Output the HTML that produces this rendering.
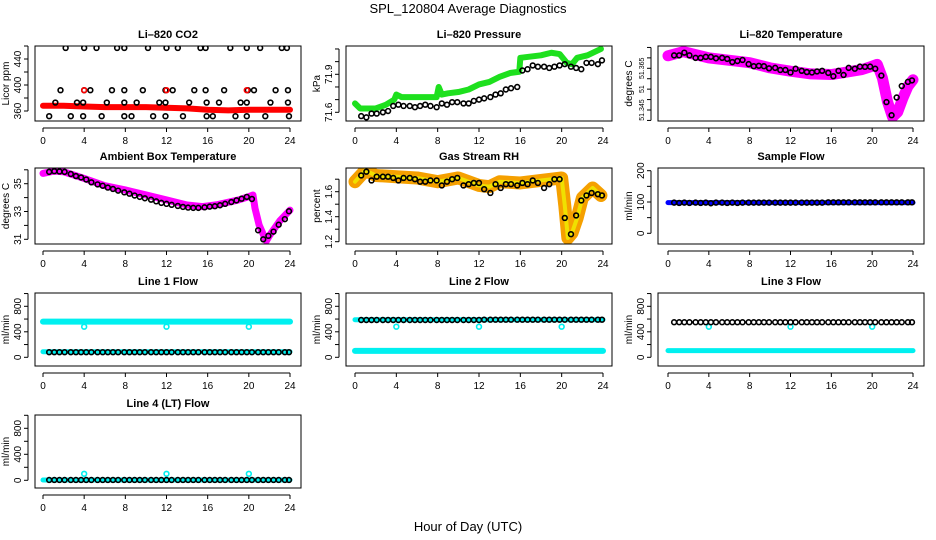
<!DOCTYPE html>
<html><head><meta charset="utf-8"><style>
html,body{margin:0;padding:0;background:#fff}
svg{display:block;font-family:"Liberation Sans",sans-serif}
</style></head><body>
<svg id="c" width="936" height="540" viewBox="0 0 936 540">
<text x="468" y="13" text-anchor="middle" font-size="13">SPL_120804  Average Diagnostics</text>
<text x="468" y="531" text-anchor="middle" font-size="13">Hour of Day (UTC)</text>
</svg>
<script>
// ---- shared sample hours ----
const hoursB = [0.6,1.1,1.6,2.1,2.7,3.2,3.7,4.2,4.7,5.3,5.8,6.3,6.8,7.3,7.9,8.4,8.9,9.4,9.9,10.5,11.0,11.5,12.0,12.5,13.1,13.6,14.1,14.6,15.1,15.7,16.2,16.7,17.2,17.7,18.3,18.8,19.3,19.8,20.3,20.9,21.4,21.9,22.4,22.9,23.5,23.9];
const xTicks = [0,4,8,12,16,20,24];
// ---- CO2 ----
const co2BandH = [0,2,4,6,8,10,12,14,16,18,20,22,24];
const co2BandV = [368,368,367,366,366,366,365,364,362,361,362,362,362];
const co2PtsH = [2.2,4.0,5.2,7.2,7.9,10.2,12.0,13.1,15.3,15.8,18.2,19.8,21.1,23.2,23.7, 1.7,4.0,4.6,6.7,7.9,9.7,11.9,12.6,14.7,15.8,17.6,19.9,20.5,22.6,23.8, 1.2,3.3,3.9,6.2,7.9,9.1,11.3,11.9,14.2,15.9,17.1,19.2,19.8,22.1,23.8, 0.6,2.7,3.9,5.7,7.9,8.6,10.7,11.9,13.6,15.9,16.5,18.7,19.8,21.6,23.9];
const co2PtsV = [457,457,457,457,457,457,457,457,457,457,457,457,457,457,457, 392,392,392,392,392,392,392,392,392,392,392,392,392,392,392, 373,373,373,373,373,373,373,373,373,373,373,373,373,373,373, 352,352,352,352,352,352,352,352,352,352,352,352,352,352,352];
const co2RedH = [4.0,12.0,19.8];
const co2RedV = [392,392,392];
// ---- Pressure ----
const presBandH = [0,0.5,2,3,3.8,4,4.5,6,7.9,8.1,8.4,9,10,11,12,13,14,15,15.9,16,17,18,19,19.8,20.5,21,21.5,22.5,23.8];
const presBandV = [71.67,71.63,71.63,71.66,71.70,71.74,71.72,71.72,71.72,71.80,71.74,71.75,71.76,71.78,71.82,71.84,71.88,71.91,71.92,72.03,72.04,72.05,72.07,72.06,71.99,71.98,72.03,72.05,72.10];
const presPtsV = [71.57,71.56,71.59,71.59,71.6,71.61,71.65,71.66,71.65,71.65,71.64,71.65,71.66,71.65,71.64,71.67,71.66,71.68,71.68,71.67,71.67,71.69,71.70,71.71,71.72,71.74,71.75,71.78,71.79,71.80,71.93,71.94,71.97,71.96,71.96,71.95,71.96,71.97,71.98,71.96,71.95,71.94,71.99,71.99,71.98,72.01];
// ---- Li-820 temperature ----
const tempBandH = [0,1.5,4,8,10,12,14,16,17,19,20,20.5,21,21.5,22,22.5,23,23.5,24];
const tempBandV = [51.371,51.373,51.370,51.3677,51.3652,51.3636,51.3623,51.362,51.3628,51.3644,51.366,51.3669,51.3604,51.349,51.3416,51.344,51.3506,51.3563,51.3595];
const tempPtsV = [51.3712,51.3712,51.3725,51.3712,51.370,51.370,51.3705,51.3705,51.3698,51.370,51.3695,51.368,51.3685,51.369,51.367,51.366,51.3662,51.3660,51.365,51.3652,51.3642,51.3642,51.363,51.3648,51.3638,51.3632,51.363,51.3635,51.3638,51.3628,51.3612,51.3638,51.3618,51.3652,51.3648,51.3658,51.3657,51.3658,51.3648,51.3615,51.3488,51.3425,51.3510,51.3565,51.3585,51.3592];
// ---- Ambient box temperature ----
const ambBandH = [0,1,2,3,4,6,8,10,12,14,15.5,17,19,20,20.4,20.6,21,21.5,21.7,22,23,24];
const ambBandV = [35.74,35.9,35.86,35.62,35.38,34.86,34.55,34.19,33.83,33.47,33.35,33.5,33.83,34.07,34.19,33.23,32.03,31.19,30.88,31.26,32.32,33.1];
const ambPtsV = [35.85,35.9,35.88,35.85,35.7,35.55,35.45,35.3,35.1,34.95,34.85,34.72,34.62,34.5,34.38,34.28,34.15,34.05,33.95,33.85,33.73,33.62,33.55,33.48,33.4,33.33,33.28,33.26,33.26,33.3,33.35,33.38,33.45,33.55,33.68,33.8,33.92,34.05,33.9,31.65,31.0,31.25,31.55,32.05,32.45,33.02];
// ---- RH ----
const rhBandH = [0,1,2,4,6,8,10,12,13,14,16,18,20,20.3,20.6,21,21.5,22,23,23.8];
const rhBandV = [1.68,1.77,1.73,1.72,1.71,1.68,1.71,1.65,1.64,1.68,1.67,1.69,1.71,1.49,1.23,1.27,1.39,1.55,1.63,1.57];
const rhPtsV = [1.73,1.76,1.69,1.72,1.72,1.72,1.71,1.69,1.71,1.71,1.70,1.68,1.68,1.69,1.69,1.65,1.68,1.70,1.71,1.65,1.66,1.67,1.67,1.62,1.59,1.66,1.63,1.66,1.66,1.65,1.67,1.66,1.69,1.67,1.63,1.66,1.70,1.70,1.39,1.26,1.41,1.53,1.57,1.59,1.58,1.57];
// ---- Flows ----
const flowBandH = [0,24];
const sampleBandV = [98,98];
const samplePtsV = [98,97,98,97,98,97,98,96,98,98,97,98,97,98,98,98,98,98,98,98,98,98,98,98,98,98,98,98,98,99,99,99,99,99,99,99,99,99,99,99,99,99,99,99,99,99];
const line1HighV = [560,560];
const line1LowV = [88,88];
const line1PtsV = [80,80,80,80,80,80,80,80,80,80,80,80,80,80,80,80,80,80,80,80,80,80,80,80,80,80,80,80,80,80,80,80,80,80,80,80,80,80,80,80,80,80,80,80,80,80];
const outH = [4,12,20];
const outV = [480,480,480];
const line2HighV = [590,590];
const line2LowV = [100,100];
const line2PtsV = [585,585,585,585,585,585,585,585,585,585,585,585,585,585,585,585,585,585,585,585,585,585,585,590,590,590,590,590,590,590,590,590,590,590,590,590,590,590,590,590,590,590,590,590,590,590];
const line3LowV = [105,105];
const line3PtsV = [550,550,550,550,550,550,550,550,550,550,550,550,550,550,550,550,550,550,550,550,550,550,550,550,550,550,550,550,550,550,550,550,550,550,550,550,550,550,550,550,550,550,550,550,550,550];
const line4BandV = [5,5];
const line4PtsV = [5,5,5,5,5,5,5,5,5,5,5,5,5,5,5,5,5,5,5,5,5,5,5,5,5,5,5,5,5,5,5,5,5,5,5,5,5,5,5,5,5,5,5,5,5,5];
const line4OutV = [100,100,100];

const NS = 'http://www.w3.org/2000/svg';
const svg = document.getElementById('c');
function mk(tag, attrs, parent) {
  const e = document.createElementNS(NS, tag);
  for (const k in attrs) e.setAttribute(k, attrs[k]);
  (parent || svg).appendChild(e);
  return e;
}
const cols = [{L:35,R:301,x0:43,x24:290},{L:346,R:612,x0:355,x24:603},{L:658,R:924,x0:668,x24:913}];
const rows = [{T:46,B:121},{T:168,B:244},{T:293,B:366},{T:415,B:488}];

function panel(name, c, r, title, ylab, yA, pA, yB, pB, yTicks, yLabels, series, labelSize) {
  const col = cols[c], row = rows[r];
  const g = mk('g', {});
  
  
  const X = t => col.x0 + t * (col.x24 - col.x0) / 24;
  const Y = v => pA + (v - yA) * (pB - pA) / (yB - yA);
  const clip = 'clip-' + name;
  const cp = mk('clipPath', {id: clip}, g);
  mk('rect', {x: col.L, y: row.T, width: col.R - col.L, height: row.B - row.T}, cp);
  const data = mk('g', {'clip-path': 'url(#' + clip + ')'}, g);
  series.forEach(s => {
    if (s.type === 'band') {
      const pl = mk('polyline', {points: s.h.map((h, i) => X(h) + ',' + Y(s.v[i])).join(' '), fill: 'none', stroke: s.color, 'stroke-width': s.w || 7, 'stroke-linejoin': 'round', 'stroke-linecap': 'round'}, data);
      
      
    } else {
      s.h.forEach((h, i) => {
        const ci = mk('circle', {cx: X(h), cy: Y(s.v[i]), r: 2.4, fill: 'none', stroke: s.color, 'stroke-width': 1.6}, data);
        
        
      });
    }
  });
  const box = mk('rect', {x: col.L, y: row.T, width: col.R - col.L, height: row.B - row.T, fill: 'none', stroke: '#000', 'stroke-width': 1}, g);
  
  
  const tt = mk('text', {x: (col.L + col.R) / 2, y: row.T - 8, 'text-anchor': 'middle', 'font-size': 11, 'font-weight': 'bold'}, g);
  tt.textContent = title;
  
  
  mk('line', {x1: X(0), x2: X(24), y1: row.B + 7, y2: row.B + 7, stroke: '#000'}, g);
  xTicks.forEach(t => {
    mk('line', {x1: X(t), x2: X(t), y1: row.B + 7, y2: row.B + 11, stroke: '#000'}, g);
    const tx = mk('text', {x: X(t), y: row.B + 23, 'text-anchor': 'middle', 'font-size': 10}, g);
    tx.textContent = t;
    
    
  });
  const ax = col.L - 7;
  mk('line', {x1: ax, x2: ax, y1: Y(yTicks[0]), y2: Y(yTicks[yTicks.length - 1]), stroke: '#000'}, g);
  yTicks.forEach(v => mk('line', {x1: ax - 4, x2: ax, y1: Y(v), y2: Y(v), stroke: '#000'}, g));
  yLabels.forEach(l => {
    const yy = Y(l[0]);
    const ty = mk('text', {x: ax - 7, y: yy, 'text-anchor': 'middle', 'font-size': labelSize || 10, transform: 'rotate(-90 ' + (ax - 7) + ' ' + yy + ')'}, g);
    ty.textContent = l[1];
    
    
  });
  const cy = (row.T + row.B) / 2;
  const yt = mk('text', {x: col.L - 26, y: cy, 'text-anchor': 'middle', 'font-size': 10, transform: 'rotate(-90 ' + (col.L - 26) + ' ' + cy + ')'}, g);
  yt.textContent = ylab;
  
  
}

const flowTicks = [0,200,400,600,800,1000];
const flowLabels = [[0,'0'],[400,'400'],[800,'800']];
const CY = '#00f0f0';

panel('co2-panel', 0, 0, 'Li\u2013820 CO2', 'Licor ppm', 360, 111, 440, 59,
  [360,380,400,420,440,460], [[360,'360'],[400,'400'],[440,'440']],
  [{type:'band', name:'co2-band', color:'#f00', h:co2BandH, v:co2BandV, w:6},
   {type:'pts', name:'co2-point', color:'#000', h:co2PtsH, v:co2PtsV},
   {type:'pts', name:'co2-red-point', color:'#f00', h:co2RedH, v:co2RedV}]);
panel('pressure-panel', 1, 0, 'Li\u2013820 Pressure', 'kPa', 71.6, 112.3, 71.9, 74.3,
  [71.6,71.7,71.8,71.9,72.0,72.1], [[71.6,'71.6'],[71.9,'71.9']],
  [{type:'band', name:'pressure-band', color:'#1ee01e', h:presBandH, v:presBandV, w:6},
   {type:'pts', name:'pressure-point', color:'#000', h:hoursB, v:presPtsV}]);
panel('li820-temp-panel', 2, 0, 'Li\u2013820 Temperature', 'degrees C', 51.345, 110, 51.365, 68.3,
  [51.34,51.345,51.35,51.355,51.36,51.365,51.37,51.375], [[51.345,'51.345'],[51.355,'51'],[51.365,'51.365']],
  [{type:'band', name:'temp-band', color:'#f0f', h:tempBandH, v:tempBandV, w:11},
   {type:'pts', name:'temp-point', color:'#000', h:hoursB, v:tempPtsV}], 7);
panel('ambient-temp-panel', 0, 1, 'Ambient Box Temperature', 'degrees C', 31, 239.3, 35, 183.7,
  [31,32,33,34,35,36], [[31,'31'],[33,'33'],[35,'35']],
  [{type:'band', name:'ambient-band', color:'#f0f', h:ambBandH, v:ambBandV, w:7},
   {type:'pts', name:'ambient-point', color:'#000', h:hoursB, v:ambPtsV}]);
panel('rh-panel', 1, 1, 'Gas Stream RH', 'percent', 1.2, 241.7, 1.6, 191.7,
  [1.2,1.3,1.4,1.5,1.6,1.7], [[1.2,'1.2'],[1.4,'1.4'],[1.6,'1.6']],
  [{type:'band', name:'rh-band-outer', color:'#f5a000', h:rhBandH, v:rhBandV, w:13},
   {type:'band', name:'rh-band-inner', color:'#f0e000', h:rhBandH, v:rhBandV, w:4},
   {type:'pts', name:'rh-point', color:'#000', h:hoursB, v:rhPtsV}]);
panel('sample-flow-panel', 2, 1, 'Sample Flow', 'ml/min', 0, 233.3, 200, 170.7,
  [0,50,100,150,200], [[0,'0'],[100,'100'],[200,'200']],
  [{type:'band', name:'sample-band', color:'#00f', h:flowBandH, v:sampleBandV, w:5},
   {type:'pts', name:'sample-point', color:'#000', h:hoursB, v:samplePtsV}]);
panel('line1-flow-panel', 0, 2, 'Line 1 Flow', 'ml/min', 0, 357.3, 800, 306.3, flowTicks, flowLabels,
  [{type:'band', name:'line1-high-band', color:CY, h:flowBandH, v:line1HighV, w:6},
   {type:'band', name:'line1-low-band', color:CY, h:flowBandH, v:line1LowV, w:5},
   {type:'pts', name:'line1-outlier', color:CY, h:outH, v:outV},
   {type:'pts', name:'line1-point', color:'#000', h:hoursB, v:line1PtsV}]);
panel('line2-flow-panel', 1, 2, 'Line 2 Flow', 'ml/min', 0, 357.3, 800, 306.3, flowTicks, flowLabels,
  [{type:'band', name:'line2-high-band', color:CY, h:flowBandH, v:line2HighV, w:5},
   {type:'band', name:'line2-low-band', color:CY, h:flowBandH, v:line2LowV, w:6},
   {type:'pts', name:'line2-outlier', color:CY, h:outH, v:outV},
   {type:'pts', name:'line2-point', color:'#000', h:hoursB, v:line2PtsV}]);
panel('line3-flow-panel', 2, 2, 'Line 3 Flow', 'ml/min', 0, 357.3, 800, 306.3, flowTicks, flowLabels,
  [{type:'band', name:'line3-low-band', color:CY, h:flowBandH, v:line3LowV, w:5},
   {type:'pts', name:'line3-outlier', color:CY, h:outH, v:outV},
   {type:'pts', name:'line3-point', color:'#000', h:hoursB, v:line3PtsV}]);
panel('line4-flow-panel', 0, 3, 'Line 4 (LT) Flow', 'ml/min', 0, 480.3, 800, 428.3, flowTicks, flowLabels,
  [{type:'band', name:'line4-band', color:CY, h:flowBandH, v:line4BandV, w:5},
   {type:'pts', name:'line4-outlier', color:CY, h:outH, v:line4OutV},
   {type:'pts', name:'line4-point', color:'#000', h:hoursB, v:line4PtsV}]);
</script>
</body></html>
